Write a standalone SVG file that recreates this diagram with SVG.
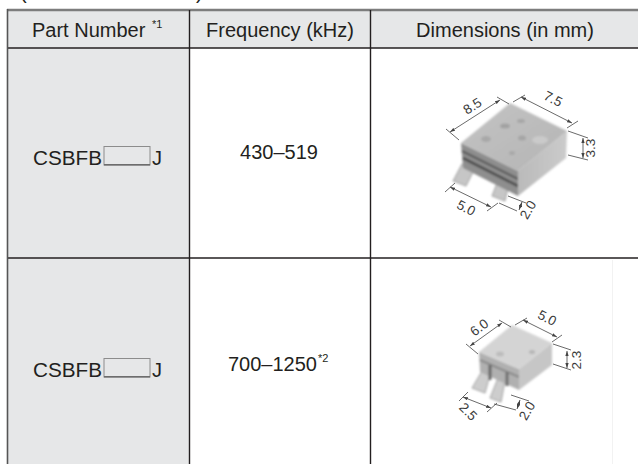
<svg xmlns="http://www.w3.org/2000/svg" width="638" height="464" viewBox="0 0 638 464">
<defs>
<style>
.t{font-family:"Liberation Sans",Arial,sans-serif;fill:#231f20;}
.h{font-size:20px;}
.b{font-size:20px;}
.sup{font-size:11px;}
.dim{font-family:"Liberation Sans",Arial,sans-serif;font-size:13.5px;fill:#3a3a3a;}
.grid{stroke:#231f20;stroke-width:1.4;fill:none;}
.dl{stroke:#444;stroke-width:0.8;fill:none;}
.da{stroke:#444;stroke-width:0.8;fill:none;marker-start:url(#ar);marker-end:url(#ar);}
.ph{filter:url(#soft);}
</style>
<marker id="ar" viewBox="0 0 6 4" refX="6" refY="2" markerWidth="5" markerHeight="3.5" markerUnits="userSpaceOnUse" orient="auto-start-reverse">
<path d="M0,0 L6,2 L0,4 z" fill="#444"/>
</marker>
<filter id="soft" x="-20%" y="-20%" width="140%" height="140%">
<feGaussianBlur stdDeviation="1.1"/>
</filter>
<linearGradient id="top1" x1="0" y1="0" x2="1" y2="1">
<stop offset="0" stop-color="#c4c4c4"/>
<stop offset="1" stop-color="#b4b4b4"/>
</linearGradient>
<linearGradient id="side1" x1="0" y1="0" x2="1" y2="0">
<stop offset="0" stop-color="#bababa"/>
<stop offset="1" stop-color="#cbcbcb"/>
</linearGradient>
</defs>

<!-- cut-off caption at top -->
<text class="t h" x="20" y="-1">(</text>
<text class="t h" x="196" y="-1">)</text>

<!-- cell fills -->
<rect x="7" y="10" width="631" height="38" fill="#e6e7e8"/>
<rect x="7" y="48" width="182" height="416" fill="#e6e7e8"/>

<!-- grid -->
<g id="grid">
<line x1="7" y1="10" x2="638" y2="10" stroke="#7d7d7d" stroke-width="2.5"/>
<line class="grid" x1="7" y1="48" x2="638" y2="48"/>
<line class="grid" x1="7" y1="258" x2="638" y2="258"/>
<line x1="7.5" y1="9" x2="7.5" y2="464" stroke="#555" stroke-width="1.6"/>
<line class="grid" x1="189.5" y1="10" x2="189.5" y2="464"/>
<line class="grid" x1="370.5" y1="10" x2="370.5" y2="464"/>
<line x1="612.5" y1="260" x2="612.5" y2="464" stroke="#f2f2f2" stroke-width="1"/>
</g>

<!-- header -->
<g id="header">
<text class="t h" x="32" y="37">Part Number</text>
<text class="t sup" x="152" y="28">*1</text>
<text class="t h" x="280" y="37" text-anchor="middle">Frequency (kHz)</text>
<text class="t h" x="505" y="37" text-anchor="middle">Dimensions (in mm)</text>
</g>

<!-- row 1 -->
<g id="row1">
<text class="t b" x="33" y="165" textLength="69" lengthAdjust="spacingAndGlyphs">CSBFB</text>
<rect x="104" y="146.5" width="46" height="18.5" fill="none" stroke="#8c8c8c" stroke-width="1"/>
<line x1="104" y1="164.7" x2="150" y2="164.7" stroke="#6d6d6d" stroke-width="1.4"/>
<text class="t b" x="152" y="165">J</text>
<text class="t b" x="279" y="159" text-anchor="middle">430–519</text>
</g>

<!-- part 1 drawing -->
<g id="part1">
<g class="ph">
<polygon points="462,164 474,170 466,186 453,181" fill="#c6c6c6" stroke="#8a8a8a" stroke-width="0.8"/>
<polygon points="497,183 508,188 505,201 492,196" fill="#c6c6c6" stroke="#8a8a8a" stroke-width="0.8"/>
<polygon points="461,143 518,171 518,196 463,168" fill="#8e8e8e"/>
<line x1="462" y1="151" x2="518" y2="179" stroke="#5a5a5a" stroke-width="2.2"/>
<line x1="463" y1="158" x2="518" y2="186" stroke="#4e4e4e" stroke-width="2.6"/>
<polygon points="518,171 567,131 566,158 518,196" fill="url(#side1)"/>
<polygon points="461,143 510,103 567,131 518,171" fill="url(#top1)"/>
<ellipse cx="505" cy="126" rx="5" ry="2.5" fill="#a2a2a2"/>
<ellipse cx="521" cy="121" rx="4" ry="2" fill="#a6a6a6"/>
<ellipse cx="486" cy="139" rx="5" ry="3" fill="#a8a8a8"/>
<ellipse cx="522" cy="138" rx="4" ry="2.5" fill="#a4a4a4"/>
<ellipse cx="512" cy="153" rx="3" ry="2" fill="#a8a8a8"/>
<ellipse cx="540" cy="140" rx="8" ry="4" fill="#cacaca"/>
</g>
<line class="dl" x1="446" y1="129" x2="459" y2="140"/>
<line class="dl" x1="497" y1="97" x2="509" y2="104"/>
<line class="da" x1="450" y1="132" x2="500" y2="100"/>
<line class="dl" x1="513" y1="102" x2="525" y2="95"/>
<line class="dl" x1="567" y1="128" x2="578" y2="121"/>
<line class="da" x1="521" y1="97" x2="572" y2="123"/>
<line class="dl" x1="568" y1="131" x2="588" y2="138"/>
<line class="dl" x1="568" y1="155" x2="588" y2="160"/>
<line class="da" x1="583" y1="138" x2="583" y2="158"/>
<line class="dl" x1="445" y1="192" x2="455" y2="183"/>
<line class="dl" x1="487" y1="211" x2="498" y2="203"/>
<line class="da" x1="450" y1="187" x2="491" y2="207"/>
<line class="dl" x1="499" y1="203" x2="517" y2="211"/>
<line class="dl" x1="508" y1="196" x2="526" y2="203"/>
<line class="da" x1="519" y1="210" x2="522" y2="202"/>
<text class="dim" transform="translate(475,110) rotate(-33)" text-anchor="middle">8.5</text>
<text class="dim" transform="translate(551,103) rotate(27)" text-anchor="middle">7.5</text>
<text class="dim" transform="translate(595,148) rotate(-90)" text-anchor="middle">3.3</text>
<text class="dim" transform="translate(464,212) rotate(27)" text-anchor="middle">5.0</text>
<text class="dim" transform="translate(532,212) rotate(-60)" text-anchor="middle">2.0</text>
</g>

<!-- row 2 -->
<g id="row2">
<text class="t b" x="33" y="377" textLength="69" lengthAdjust="spacingAndGlyphs">CSBFB</text>
<rect x="104" y="358.5" width="46" height="18.5" fill="none" stroke="#8c8c8c" stroke-width="1"/>
<line x1="104" y1="376.7" x2="150" y2="376.7" stroke="#6d6d6d" stroke-width="1.4"/>
<text class="t b" x="152" y="377">J</text>
<text class="t b" x="228" y="371">700–1250</text>
<text class="t sup" x="318" y="362">*2</text>
</g>

<!-- part 2 drawing -->
<g id="part2">
<g class="ph">
<polygon points="482,371 490,375 485,393 472,388" fill="#cdcdcd" stroke="#8e8e8e" stroke-width="0.8"/>
<polygon points="498,378 505,381 501,402 490,398" fill="#cdcdcd" stroke="#8e8e8e" stroke-width="0.8"/>
<polygon points="479,352 519,369 519,390 480,372" fill="#b0b0b0"/>
<line x1="480" y1="360" x2="519" y2="377" stroke="#8a8a8a" stroke-width="2"/>
<line x1="490" y1="365" x2="490" y2="380" stroke="#666" stroke-width="3"/>
<line x1="507" y1="372" x2="507" y2="386" stroke="#707070" stroke-width="3"/>
<polygon points="519,369 552,343 552,365 519,390" fill="#c6c6c6"/>
<polygon points="479,352 512,325 552,343 519,369" fill="#d4d4d4"/>
<ellipse cx="500" cy="354" rx="4" ry="2.5" fill="#bcbcbc"/>
<ellipse cx="532" cy="352" rx="3" ry="2" fill="#b6b6b6"/>
</g>
<line class="dl" x1="466" y1="344" x2="478" y2="354"/>
<line class="dl" x1="499" y1="320" x2="511" y2="327"/>
<line class="da" x1="470" y1="346" x2="502" y2="323"/>
<line class="dl" x1="515" y1="325" x2="527" y2="318"/>
<line class="dl" x1="552" y1="342" x2="562" y2="335"/>
<line class="da" x1="523" y1="320" x2="557" y2="337"/>
<line class="dl" x1="553" y1="344" x2="571" y2="350"/>
<line class="dl" x1="553" y1="364" x2="571" y2="370"/>
<line class="da" x1="567" y1="351" x2="567" y2="368"/>
<line class="dl" x1="459" y1="401" x2="468" y2="392"/>
<line class="dl" x1="487" y1="412" x2="497" y2="403"/>
<line class="da" x1="463" y1="397" x2="491" y2="408"/>
<line class="dl" x1="494" y1="404" x2="516" y2="410"/>
<line class="dl" x1="511" y1="395" x2="529" y2="401"/>
<line class="da" x1="517" y1="409" x2="520" y2="400"/>
<text class="dim" transform="translate(482,331) rotate(-37)" text-anchor="middle">6.0</text>
<text class="dim" transform="translate(545,322) rotate(27)" text-anchor="middle">5.0</text>
<text class="dim" transform="translate(581,360) rotate(-90)" text-anchor="middle">2.3</text>
<text class="dim" transform="translate(465,415) rotate(45)" text-anchor="middle">2.5</text>
<text class="dim" transform="translate(531,413) rotate(-60)" text-anchor="middle">2.0</text>
</g>
</svg>
